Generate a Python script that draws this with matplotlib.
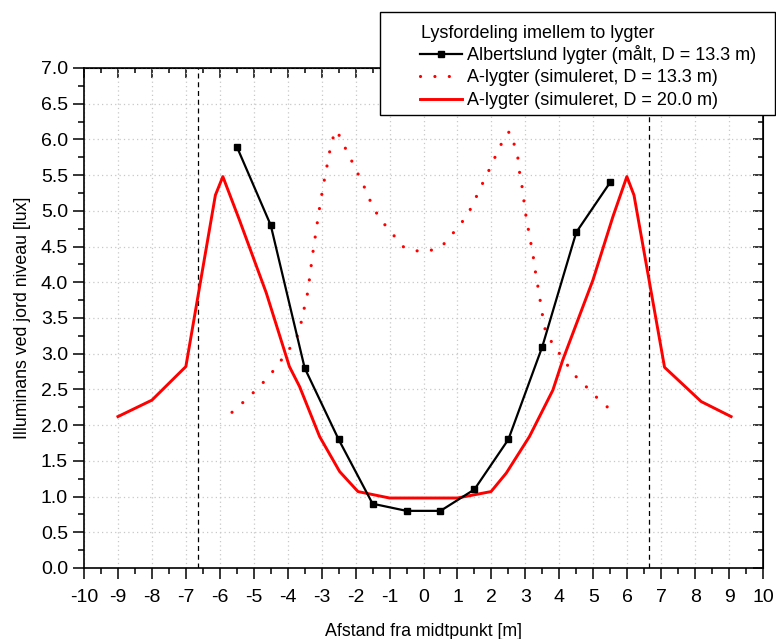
import numpy as np
import matplotlib
matplotlib.use('Agg')
import matplotlib.pyplot as plt
from matplotlib.patches import Rectangle
from matplotlib.ticker import MultipleLocator, FormatStrFormatter

plt.rcParams['font.family'] = ['Liberation Sans', 'DejaVu Sans']
plt.rcParams['axes.unicode_minus'] = False

# Albertslund lygter (målt, D = 13.3 m)
x_maalt = [-5.5, -4.5, -3.5, -2.5, -1.5, -0.5, 0.5, 1.5, 2.5, 3.5, 4.5, 5.5]
y_maalt = [5.9, 4.8, 2.8, 1.8, 0.9, 0.8, 0.8, 1.1, 1.8, 3.1, 4.7, 5.4]

# A-lygter (simuleret, D = 13.3 m)
x_sim13 = [-5.64, -5.22, -4.83, -4.49, -4.19, -3.9, -3.67, -3.59, -3.41, -3.26, -3.08,
           -2.95, -2.87, -2.72, -2.59, -2.43, -2.25, -2.05, -1.86, -1.67, -1.51, -1.27,
           -0.95, -0.61, -0.22, 0.18, 0.57, 0.91, 1.23, 1.45, 1.63, 1.83, 2.01, 2.19,
           2.39, 2.53, 2.68, 2.78, 2.83, 2.9, 2.95, 3.0, 3.07, 3.14, 3.22, 3.27, 3.34,
           3.4, 3.47, 3.53, 3.61, 3.88, 4.15, 4.45, 4.81, 5.2, 5.6]
y_sim13 = [2.18, 2.36, 2.54, 2.72, 2.91, 3.10, 3.29, 3.47, 3.86, 4.41, 4.99,
           5.36, 5.56, 5.94, 6.13, 6.02, 5.82, 5.64, 5.45, 5.26, 5.07, 4.88,
           4.70, 4.50, 4.44, 4.44, 4.52, 4.71, 4.90, 5.08, 5.28, 5.47, 5.65, 5.84,
           6.03, 6.11, 5.92, 5.74, 5.54, 5.35, 5.17, 4.98, 4.79, 4.60, 4.41, 4.22, 4.03,
           3.85, 3.65, 3.46, 3.28, 3.09, 2.90, 2.70, 2.53, 2.34, 2.18]

# A-lygter (simuleret, D = 20.0 m)
x_sim20 = [-9.0, -8.0, -7.0, -6.13, -5.91, -5.42, -4.63, -3.95, -3.65, -3.06, -2.47,
           -1.93, -1.0, 0.0, 1.0, 1.99, 2.44, 3.12, 3.81, 4.1, 4.99, 5.58, 5.99, 6.2,
           7.1, 8.18, 9.06]
y_sim20 = [2.12, 2.35, 2.82, 5.22, 5.48, 4.87, 3.85, 2.82, 2.54, 1.84, 1.35,
           1.07, 0.98, 0.98, 0.98, 1.07, 1.33, 1.84, 2.49, 2.91, 4.03, 4.92, 5.48, 5.22,
           2.81, 2.33, 2.12]

lygte_pos = [-6.65, 6.65]

fs = 12.8
fs_leg = 13
fs_tick = 14
fig = plt.figure(figsize=(7.76, 6.39), dpi=100)
ax = fig.add_axes([84/776, 71/639, 679/776, 500/639])

ax.set_xlim(-10, 10)
ax.set_ylim(0, 7)

for xv in lygte_pos:
    ax.axvline(xv, color='black', lw=0.9, ls=(0, (4, 3)), zorder=2)

l1, = ax.plot(x_maalt, y_maalt, color='black', lw=1.6, marker='s', ms=5, zorder=4)
l2, = ax.plot(x_sim13, y_sim13, color='red', lw=2.3, ls=(0, (0.01, 4.5)),
              dash_capstyle='round', zorder=3)
l3, = ax.plot(x_sim20, y_sim20, color='red', lw=2.1, zorder=3)

ax.xaxis.set_major_locator(MultipleLocator(1))
ax.xaxis.set_minor_locator(MultipleLocator(0.5))
ax.yaxis.set_major_locator(MultipleLocator(0.5))
ax.yaxis.set_minor_locator(MultipleLocator(0.25))
ax.yaxis.set_major_formatter(FormatStrFormatter('%.1f'))
ax.grid(True, which='major', color='#c8c8c8', ls=(0, (1, 2.5)), lw=0.9)
ax.set_axisbelow(True)

ax.tick_params(axis='x', which='major', pad=7)
ax.tick_params(axis='y', which='major', pad=3.5)
ax.tick_params(which='major', direction='out', length=8, width=1.1, labelsize=fs_tick)
ax.tick_params(which='minor', direction='out', length=4, width=1.1)
for s in ax.spines.values():
    s.set_linewidth(1.2)

# ticks pointing inward on top and right
top = ax.secondary_xaxis('top')
top.xaxis.set_major_locator(MultipleLocator(1))
top.xaxis.set_minor_locator(MultipleLocator(0.5))
top.tick_params(which='major', direction='in', length=7, width=1.1, labeltop=False)
top.tick_params(which='minor', direction='in', length=3.5, width=1.1)
right = ax.secondary_yaxis('right')
right.yaxis.set_major_locator(MultipleLocator(0.5))
right.yaxis.set_minor_locator(MultipleLocator(0.25))
right.tick_params(which='major', direction='in', length=7, width=1.1, labelright=False)
right.tick_params(which='minor', direction='in', length=3.5, width=1.1)

ax.set_xlabel('Afstand fra midtpunkt [m]', fontsize=fs, labelpad=12.5)
ax.set_ylabel('Illuminans ved jord niveau [lux]', fontsize=fs, labelpad=7)

# legend box
box = Rectangle((380/776, 1 - 115/639), 395/776, 103/639, transform=fig.transFigure,
                facecolor='white', edgecolor='black', lw=1.0, zorder=5)
fig.patches.append(box)
fig.text(421/776, 1 - 34/639, 'Lysfordeling imellem to lygter', fontsize=fs_leg,
         ha='left', va='center', zorder=6)
fig.legend([l1, l2, l3],
           ['Albertslund lygter (målt, D = 13.3 m)',
            'A-lygter (simuleret, D = 13.3 m)',
            'A-lygter (simuleret, D = 20.0 m)'],
           fontsize=fs_leg,
           loc='upper left', bbox_to_anchor=(420/776, 1 - 45/639), frameon=False,
           borderpad=0, borderaxespad=0, handlelength=2.3, handletextpad=0.3,
           labelspacing=0.3, numpoints=1).set_zorder(6)

fig.savefig('out.png', dpi=100)
